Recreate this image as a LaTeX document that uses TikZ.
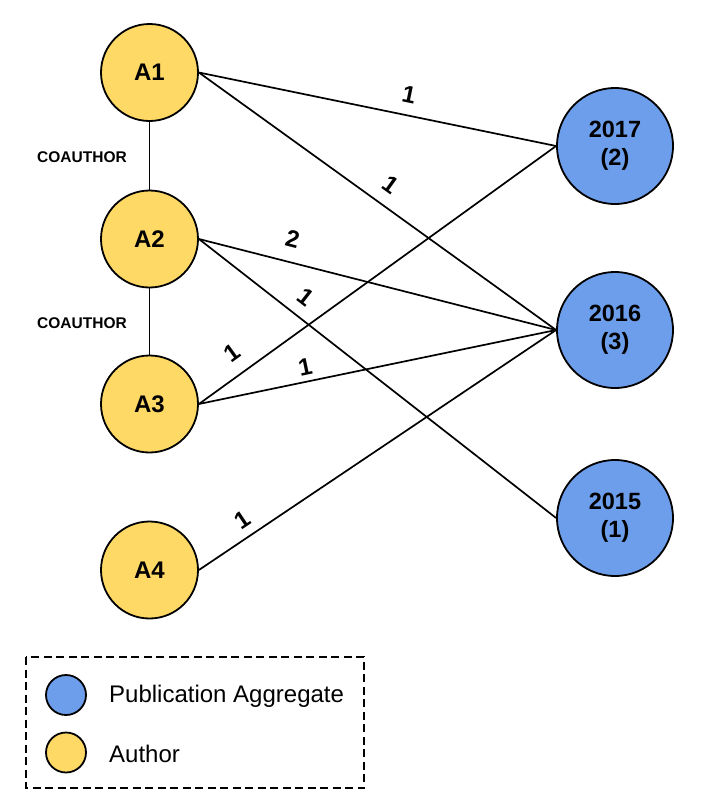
\documentclass[tikz,border=0pt]{standalone}
\usepackage{fontspec}
\setmainfont{Liberation Sans}
\definecolor{authorY}{HTML}{FFD966}
\definecolor{pubB}{HTML}{6D9EEB}
\begin{document}
\begin{tikzpicture}[x=1pt,y=-1pt,
  author/.style={circle, draw=black, line width=1.8pt, fill=authorY, minimum size=97pt, inner sep=0pt, font=\bfseries\fontsize{24}{28}\selectfont},
  pub/.style={circle, draw=black, line width=1.8pt, fill=pubB, minimum size=116pt, inner sep=0pt, align=center, font=\bfseries\fontsize{23.5}{28}\selectfont},
  edge/.style={line width=1.7pt},
  elabel/.style={sloped, inner sep=0pt, font=\bfseries\fontsize{24}{26}\selectfont},
  coauth/.style={inner sep=0pt, font=\bfseries\fontsize{15.5}{18}\selectfont},
  legdot/.style={circle, draw=black, line width=1.8pt, minimum size=40pt, inner sep=0pt},
  legtext/.style={anchor=west, inner sep=0pt, font=\fontsize{24}{28}\selectfont},
  legbox/.style={draw=black, line width=1.3pt, dash pattern=on 8pt off 4.5pt}
]
\useasboundingbox (0,0) rectangle (720,806);

% authors
\node[author] (a1) at (149.5,72.5) {A1};
\node[author] (a2) at (149.5,239) {A2};
\node[author] (a3) at (149.5,404) {A3};
\node[author] (a4) at (149.5,570) {A4};

% publication aggregates
\node[pub] (y17) at (615,146) {2017\\(2)};
\node[pub] (y16) at (615,330) {2016\\(3)};
\node[pub] (y15) at (615,518) {2015\\(1)};

% coauthor links
\draw[edge] (a1.south) -- (a2.north);
\draw[edge] (a2.south) -- (a3.north);
\node[coauth] (c1) at (82,157) {COAUTHOR};
\node[coauth] (c2) at (82,323) {COAUTHOR};

% weighted edges
\draw[edge] (a1.east) -- (y17.west) node[elabel, pos=0.577, above=11pt] (l1) {1};
\draw[edge] (a1.east) -- (y16.west) node[elabel, pos=0.502, above=12pt] (l2) {1};
\draw[edge] (a2.east) -- (y16.west) node[elabel, pos=0.247, above=13.5pt] (l3) {2};
\draw[edge] (a2.east) -- (y15.west) node[elabel, pos=0.265, above=10.5pt] (l4) {1};
\draw[edge] (a3.east) -- (y17.west) node[elabel, pos=0.130, above=13pt] (l5) {1};
\draw[edge] (a3.east) -- (y16.west) node[elabel, pos=0.306, above=5pt] (l6) {1};
\draw[edge] (a4.east) -- (y16.west) node[elabel, pos=0.149, above=8.5pt] (l7) {1};

% legend
\draw[legbox] (26,657) rectangle (364,788);
\node[legdot, fill=pubB] (lp) at (66,695) {};
\node[legdot, fill=authorY] (la) at (66,752.5) {};
\node[legtext] (tp) at (109,696) {Publication Aggregate};
\node[legtext] (ta) at (109,754) {Author};
\end{tikzpicture}
\end{document}
